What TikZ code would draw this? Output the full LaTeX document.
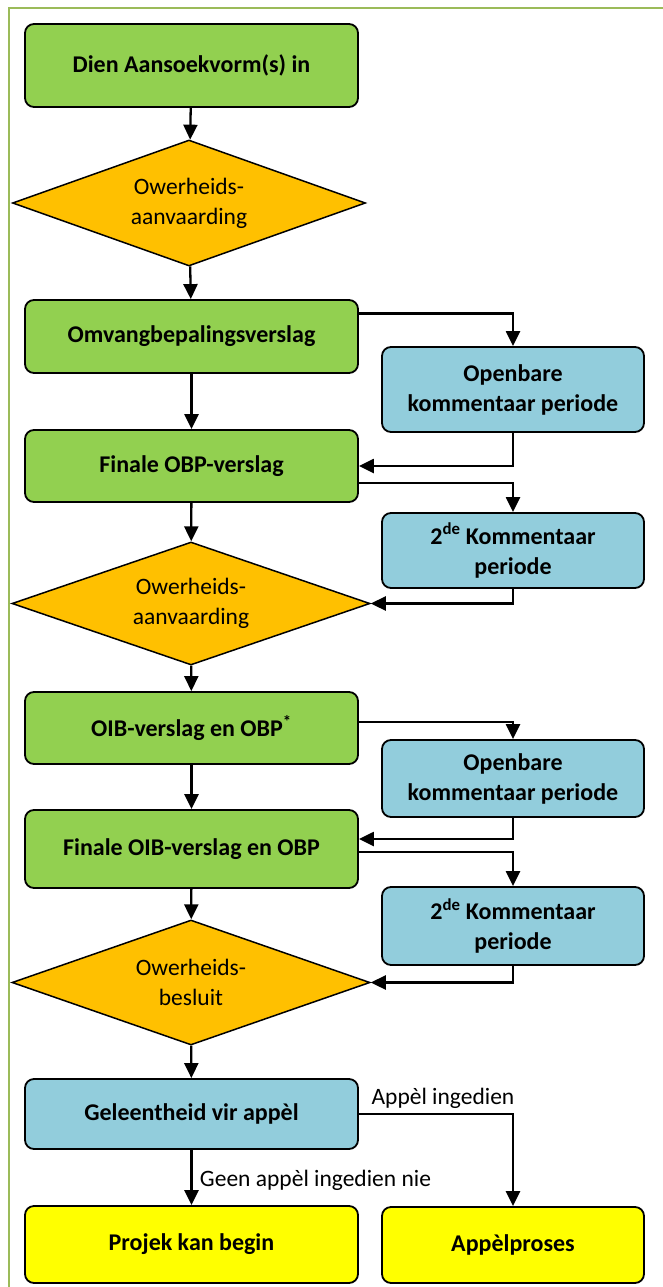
\documentclass[tikz,border=0pt]{standalone}
\usepackage{fontspec}
\setmainfont{Carlito}
\usetikzlibrary{shapes.geometric,arrows.meta}
\definecolor{framegreen}{HTML}{9BBB59}
\definecolor{boxgreen}{HTML}{92D050}
\definecolor{boxblue}{HTML}{92CDDC}
\definecolor{boxorange}{HTML}{FFC000}
\definecolor{boxyellow}{HTML}{FFFF00}
\begin{document}
\begin{tikzpicture}[x=1pt,y=-1pt,
    box/.style={draw=black,line width=1.8pt,rounded corners=9pt,align=center,
      font=\fontsize{24}{30}\selectfont\bfseries,inner sep=0pt},
    greenbox/.style={box,fill=boxgreen,minimum width=333pt},
    bluebox/.style={box,fill=boxblue,minimum width=262pt},
    yellowbox/.style={box,fill=boxyellow},
    decision/.style={draw=black,line width=1.5pt,shape=diamond,aspect=2.85,fill=boxorange,
      align=center,font=\fontsize{23.5}{30}\selectfont,inner sep=0pt},
    note/.style={font=\fontsize{23.5}{30}\selectfont},
    flow/.style={-{Triangle[length=15pt,width=14pt]},line width=2.3pt}]
    % Frame
    \useasboundingbox (0,0) rectangle (662,1287);
    \draw[framegreen,line width=2.5pt] (9,1300) -- (9,8) -- (680,8);
    % Main column
    \node[greenbox,minimum height=83pt] (aansoek) at (191.5,65.5) {Dien Aansoekvorm(s) in};
    \node[decision,minimum width=353pt,minimum height=126pt] (aanv1) at (189,203) {Owerheids-\\aanvaarding};
    \node[greenbox,minimum height=73pt] (omvang) at (191.5,336.5) {Omvangbepalingsverslag};
    \node[greenbox,minimum height=72pt] (finobp) at (191.5,466) {Finale OBP-verslag};
    \node[decision,minimum width=358pt,minimum height=123pt] (aanv2) at (191,603.5) {Owerheids-\\aanvaarding};
    \node[greenbox,minimum height=72pt] (oib) at (191.5,728) {OIB-verslag en OBP\textsuperscript{*}};
    \node[greenbox,minimum height=78pt] (finoib) at (191.5,849) {Finale OIB-verslag en OBP};
    \node[decision,minimum width=358pt,minimum height=125pt] (besluit) at (191,982.5) {Owerheids-\\besluit};
    \node[box,fill=boxblue,minimum width=333pt,minimum height=70pt] (geleentheid) at (191.5,1114) {Geleentheid vir appèl};
    \node[yellowbox,minimum width=333pt,minimum height=77pt] (projek) at (191.5,1244.5) {Projek kan begin};
    % Right column
    \node[bluebox,minimum height=85pt] (openbaar1) at (513,389.5) {Openbare\\kommentaar periode};
    \node[bluebox,minimum height=75pt] (tweede1) at (513,550.5) {2\textsuperscript{de} Kommentaar\\periode};
    \node[bluebox,minimum height=77pt] (openbaar2) at (513,778.5) {Openbare\\kommentaar periode};
    \node[bluebox,minimum height=78pt] (tweede2) at (513,926) {2\textsuperscript{de} Kommentaar\\periode};
    \node[yellowbox,minimum width=262pt,minimum height=76pt] (appelproses) at (513,1245) {Appèlproses};
    % Down the main column
    \draw[flow] (aansoek) -- (aanv1);
    \draw[flow] (aanv1) -- (omvang);
    \draw[flow] (omvang) -- (finobp);
    \draw[flow] (finobp) -- (aanv2);
    \draw[flow] (aanv2) -- (oib);
    \draw[flow] (oib) -- (finoib);
    \draw[flow] (finoib) -- (besluit);
    \draw[flow] (besluit) -- (geleentheid);
    \draw[flow] (geleentheid) -- node[note,right,xshift=4pt,yshift=-3pt] {Geen appèl ingedien nie} (projek);
    % Comment loops
    \draw[flow] ([yshift=23pt]omvang.east) -| (openbaar1.north);
    \draw[flow] (openbaar1.south) |- (finobp.east);
    \draw[flow] ([yshift=-17pt]finobp.east) -| (tweede1.north);
    \draw[flow] (tweede1.south) |- (aanv2.east);
    \draw[flow] ([yshift=6pt]oib.east) -| (openbaar2.north);
    \draw[flow] (openbaar2.south) |- ([yshift=10pt]finoib.east);
    \draw[flow] ([yshift=-3pt]finoib.east) -| (tweede2.north);
    \draw[flow] (tweede2.south) |- (besluit.east);
    \draw[flow] (geleentheid.east) -| node[note,pos=0.25,above,xshift=7pt,yshift=1pt] {Appèl ingedien} (appelproses.north);
\end{tikzpicture}
\end{document}
